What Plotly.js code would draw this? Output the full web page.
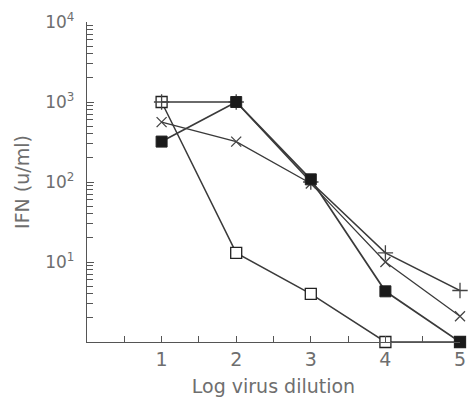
<!DOCTYPE html>
<html>
<head>
<meta charset="utf-8">
<script src="https://cdn.plot.ly/plotly-3.0.1.min.js"></script>
<style>html,body{margin:0;padding:0;background:#fff;}#chart{width:468px;height:401px;}</style>
</head>
<body>
<div id="chart"></div>
<script>
// Log virus dilution
var dilution = [1, 2, 3, 4, 5];
// IFN (u/ml) per series
var openSquare = [1000, 13, 4.0, 1.0, 1.0];
var filledSquare = [320, 1000, 108, 4.3, 1.0];
var crossX = [560, 320, 96, 10, 2.1];
var plusSeries = [1000, 1000, 100, 13, 4.4];

var xTickVals = [1, 2, 3, 4, 5];
var xTickText = ['1', '2', '3', '4', '5'];
var xMinorVals = [0.5, 1.5, 2.5, 3.5, 4.5];
var yTickVals = [10, 100, 1000, 10000];
var yTickText = ['10<sup>1</sup>', '10<sup>2</sup>', '10<sup>3</sup>', '10<sup>4</sup>'];
var yMinorVals = [];
[1, 10, 100, 1000].forEach(function (d) {
  for (var k = 2; k <= 9; k++) yMinorVals.push(d * k);
});

var lineColor = '#3a3a3a';
function trace(y, symbol, size, color, lineW, width) {
  return {
    x: dilution, y: y, type: 'scatter', mode: 'lines+markers',
    cliponaxis: false,
    line: {color: lineColor, width: width},
    marker: {symbol: symbol, size: size, color: color, line: {color: '#222', width: lineW}}
  };
}

var data = [
  trace(openSquare, 'square', 11, '#ffffff', 1.3, 1.5),
  trace(crossX, 'x-thin-open', 10, '#444', 1.3, 1.3),
  trace(plusSeries, 'cross-thin-open', 11, '#444', 1.3, 1.5),
  trace(filledSquare, 'square', 11, '#1a1a1a', 1, 1.7)
];

var fontFam = '"DejaVu Sans", sans-serif';
var txtColor = '#6e6e6e';
var layout = {
  width: 468, height: 401,
  margin: {l: 87, r: 8, t: 22, b: 59},
  paper_bgcolor: '#fff', plot_bgcolor: '#fff',
  showlegend: false,
  font: {family: fontFam, color: txtColor, size: 16},
  xaxis: {
    range: [0, 5], showgrid: false, zeroline: false,
    showline: true, linecolor: '#555', linewidth: 1.2,
    tickmode: 'array', tickvals: xTickVals, ticktext: xTickText,
    ticks: 'inside', ticklen: 6, tickcolor: '#555', tickwidth: 1,
    tickfont: {size: 19, color: txtColor},
    minor: {tickmode: 'array', tickvals: xMinorVals, ticks: 'inside', ticklen: 6, tickcolor: '#555'},
    title: {text: 'Log virus dilution', font: {size: 19, color: txtColor}, standoff: 10}
  },
  yaxis: {
    type: 'log', range: [0, 4.0], showgrid: false, zeroline: false,
    showline: true, linecolor: '#555', linewidth: 1.2,
    tickmode: 'array', tickvals: yTickVals, ticktext: yTickText,
    ticks: 'inside', ticklen: 7, tickcolor: '#555', tickwidth: 1,
    ticklabelstandoff: 8,
    tickfont: {size: 17, color: txtColor},
    minor: {tickmode: 'array', tickvals: yMinorVals, ticks: 'inside', ticklen: 6, tickcolor: '#555'},
    title: {text: 'IFN (u/ml)', font: {size: 19, color: txtColor}, standoff: 10}
  }
};

Plotly.newPlot('chart', data, layout, {displayModeBar: false, staticPlot: true});
</script>
</body>
</html>
